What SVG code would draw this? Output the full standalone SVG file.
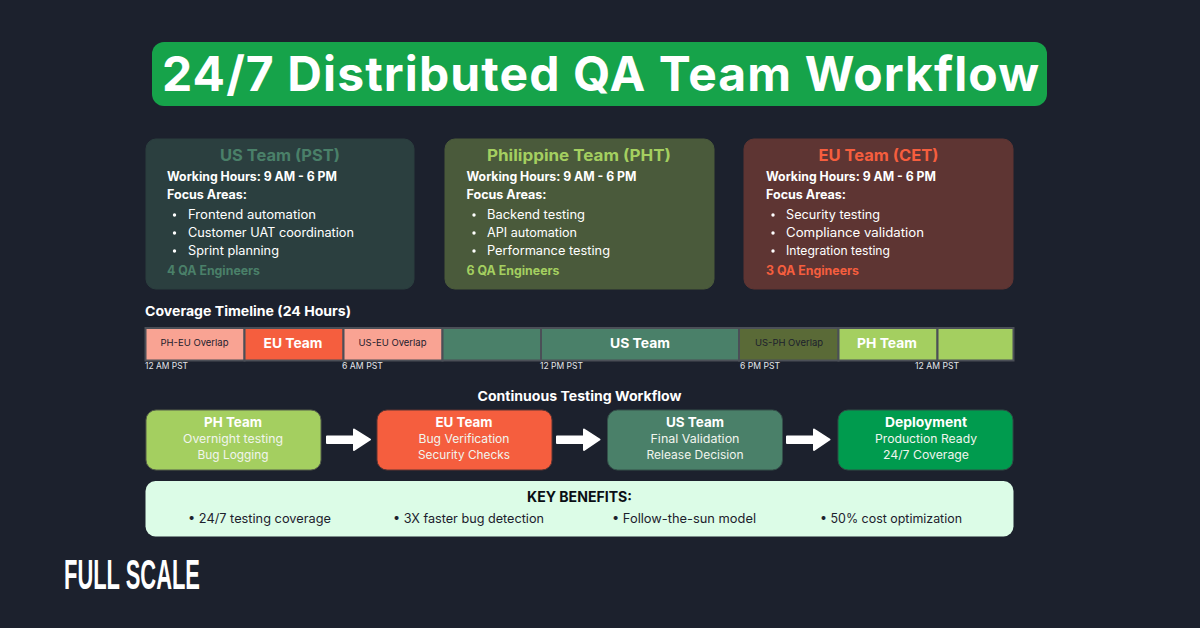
<svg xmlns="http://www.w3.org/2000/svg" width="1200" height="628" viewBox="0 0 1200 628">
<style>
text{font-family:"Inter","Noto Sans","Liberation Sans",sans-serif;fill:#fff}
.b{font-weight:700}.s{font-weight:600}
.m{text-anchor:middle}
.t13{font-size:12.500px}.t16{font-size:15.500px;font-weight:700}
.tl{font-size:9.500px;fill:#e5e7eb}
.ov{font-size:9.500px;fill:#1c212d}
.seg{stroke:#4b4f57;stroke-width:2}
.ben{font-size:12.500px;fill:#1c212d}
.st{font-size:13.500px;font-weight:700}
.sub{font-size:11.500px;fill:#f1f5ee}
</style>
<rect width="1200" height="628" fill="#1c212d"/>
<g id="title"><rect x="152" y="42" width="895" height="64" rx="12" fill="#16a34a"/>
<text class="b" x="162" y="91" font-size="48" textLength="877" lengthAdjust="spacing">24/7 Distributed QA Team Workflow</text></g>

<g id="card-us"><rect x="146" y="139" width="268" height="150" rx="10" fill="#2b3f3f" stroke="#2b3f3f"/>
<text class="t16 m" x="280" y="161" style="fill:#4a8069" textLength="120" lengthAdjust="spacingAndGlyphs">US Team (PST)</text>
<text class="b t13" x="167" y="181" textLength="170" lengthAdjust="spacingAndGlyphs">Working Hours: 9 AM - 6 PM</text>
<text class="b t13" x="167" y="199" textLength="80" lengthAdjust="spacingAndGlyphs">Focus Areas:</text>
<circle cx="174.500" cy="215" r="1.700" fill="#fff"/><text class="t13" x="188" y="219" textLength="128" lengthAdjust="spacingAndGlyphs">Frontend automation</text>
<circle cx="174.500" cy="233" r="1.700" fill="#fff"/><text class="t13" x="188" y="237" textLength="166" lengthAdjust="spacingAndGlyphs">Customer UAT coordination</text>
<circle cx="174.500" cy="251" r="1.700" fill="#fff"/><text class="t13" x="188" y="255" textLength="91" lengthAdjust="spacingAndGlyphs">Sprint planning</text>
<text class="b t13" x="167" y="275" style="fill:#4a8069" textLength="93" lengthAdjust="spacingAndGlyphs">4 QA Engineers</text></g>

<g id="card-ph"><rect x="445" y="139" width="269" height="150" rx="10" fill="#4a5a3b" stroke="#4a5a3b"/>
<text class="t16 m" x="579" y="161" style="fill:#a4cf60" textLength="184" lengthAdjust="spacingAndGlyphs">Philippine Team (PHT)</text>
<text class="b t13" x="466.500" y="181" textLength="170" lengthAdjust="spacingAndGlyphs">Working Hours: 9 AM - 6 PM</text>
<text class="b t13" x="466.500" y="199" textLength="80" lengthAdjust="spacingAndGlyphs">Focus Areas:</text>
<circle cx="474" cy="215" r="1.700" fill="#fff"/><text class="t13" x="487" y="219" textLength="98" lengthAdjust="spacingAndGlyphs">Backend testing</text>
<circle cx="474" cy="233" r="1.700" fill="#fff"/><text class="t13" x="487" y="237" textLength="90" lengthAdjust="spacingAndGlyphs">API automation</text>
<circle cx="474" cy="251" r="1.700" fill="#fff"/><text class="t13" x="487" y="255" textLength="123" lengthAdjust="spacingAndGlyphs">Performance testing</text>
<text class="b t13" x="466.500" y="275" style="fill:#a4cf60" textLength="93" lengthAdjust="spacingAndGlyphs">6 QA Engineers</text></g>

<g id="card-eu"><rect x="744" y="139" width="269" height="150" rx="10" fill="#5e3533" stroke="#5e3533"/>
<text class="t16 m" x="878.500" y="161" style="fill:#f55e3e" textLength="120" lengthAdjust="spacingAndGlyphs">EU Team (CET)</text>
<text class="b t13" x="766" y="181" textLength="170" lengthAdjust="spacingAndGlyphs">Working Hours: 9 AM - 6 PM</text>
<text class="b t13" x="766" y="199" textLength="80" lengthAdjust="spacingAndGlyphs">Focus Areas:</text>
<circle cx="773" cy="215" r="1.700" fill="#fff"/><text class="t13" x="786" y="219" textLength="94" lengthAdjust="spacingAndGlyphs">Security testing</text>
<circle cx="773" cy="233" r="1.700" fill="#fff"/><text class="t13" x="786" y="237" textLength="138" lengthAdjust="spacingAndGlyphs">Compliance validation</text>
<circle cx="773" cy="251" r="1.700" fill="#fff"/><text class="t13" x="786" y="255" textLength="104" lengthAdjust="spacingAndGlyphs">Integration testing</text>
<text class="b t13" x="766" y="275" style="fill:#f55e3e" textLength="93" lengthAdjust="spacingAndGlyphs">3 QA Engineers</text></g>

<g id="timeline">
<text class="b" x="145" y="316" font-size="13.500" textLength="206" lengthAdjust="spacingAndGlyphs">Coverage Timeline (24 Hours)</text>
<rect class="seg" x="145.500" y="328" width="99" height="32.500" fill="#f9a393"/>
<rect class="seg" x="244.500" y="328" width="99" height="32.500" fill="#f55e3e"/>
<rect class="seg" x="343.500" y="328" width="99" height="32.500" fill="#f9a393"/>
<rect class="seg" x="442.500" y="328" width="99" height="32.500" fill="#4a8069"/>
<rect class="seg" x="541" y="328" width="198" height="32.500" fill="#4a8069"/>
<rect class="seg" x="739" y="328" width="99.500" height="32.500" fill="#5a6a37"/>
<rect class="seg" x="838.500" y="328" width="99" height="32.500" fill="#a4cf60"/>
<rect class="seg" x="937.500" y="328" width="76" height="32.500" fill="#a4cf60"/>
<text class="ov m" x="194.500" y="346" textLength="68" lengthAdjust="spacingAndGlyphs">PH-EU Overlap</text>
<text class="b m" x="293" y="348" font-size="13.500" textLength="59" lengthAdjust="spacingAndGlyphs">EU Team</text>
<text class="ov m" x="392.500" y="346" textLength="68" lengthAdjust="spacingAndGlyphs">US-EU Overlap</text>
<text class="b m" x="640" y="348" font-size="13.500" textLength="60" lengthAdjust="spacingAndGlyphs">US Team</text>
<text class="ov m" x="789" y="346" textLength="68" lengthAdjust="spacingAndGlyphs">US-PH Overlap</text>
<text class="b m" x="887" y="348" font-size="13.500" textLength="60" lengthAdjust="spacingAndGlyphs">PH Team</text>
<text class="tl" x="145" y="369" textLength="43" lengthAdjust="spacingAndGlyphs">12 AM PST</text>
<text class="tl" x="342" y="369" textLength="41" lengthAdjust="spacingAndGlyphs">6 AM PST</text>
<text class="tl" x="540" y="369" textLength="43" lengthAdjust="spacingAndGlyphs">12 PM PST</text>
<text class="tl" x="740" y="369" textLength="40" lengthAdjust="spacingAndGlyphs">6 PM PST</text>
<text class="tl" x="915" y="369" textLength="44" lengthAdjust="spacingAndGlyphs">12 AM PST</text>
</g>

<text class="b m" x="579.500" y="401" font-size="13" textLength="204" lengthAdjust="spacingAndGlyphs">Continuous Testing Workflow</text>

<g id="step-ph"><rect x="146" y="410" width="175" height="60" rx="10" fill="#a4cf60" stroke="#555f4a"/>
<text class="st m" x="233" y="427" textLength="58" lengthAdjust="spacingAndGlyphs">PH Team</text>
<text class="sub m" x="233" y="443" textLength="100" lengthAdjust="spacingAndGlyphs">Overnight testing</text>
<text class="sub m" x="233" y="459" textLength="71" lengthAdjust="spacingAndGlyphs">Bug Logging</text></g>
<g id="step-eu"><rect x="377" y="410" width="175" height="60" rx="10" fill="#f55e3e" stroke="#5e3533"/>
<text class="st m" x="464" y="427" textLength="57" lengthAdjust="spacingAndGlyphs">EU Team</text>
<text class="sub m" x="464" y="443" textLength="91" lengthAdjust="spacingAndGlyphs">Bug Verification</text>
<text class="sub m" x="464" y="459" textLength="92" lengthAdjust="spacingAndGlyphs">Security Checks</text></g>
<g id="step-us"><rect x="607.500" y="410" width="175" height="60" rx="10" fill="#4a8069" stroke="#34504a"/>
<text class="st m" x="695" y="427" textLength="58" lengthAdjust="spacingAndGlyphs">US Team</text>
<text class="sub m" x="695" y="443" textLength="89" lengthAdjust="spacingAndGlyphs">Final Validation</text>
<text class="sub m" x="695" y="459" textLength="97" lengthAdjust="spacingAndGlyphs">Release Decision</text></g>
<g id="step-deploy"><rect x="838" y="410" width="175" height="60" rx="10" fill="#009b4e" stroke="#2f4f46"/>
<text class="st m" x="926" y="427" textLength="82" lengthAdjust="spacingAndGlyphs">Deployment</text>
<text class="sub m" x="926" y="443" textLength="102" lengthAdjust="spacingAndGlyphs">Production Ready</text>
<text class="sub m" x="926" y="459" textLength="86" lengthAdjust="spacingAndGlyphs">24/7 Coverage</text></g>

<g id="connectors" fill="#fff" stroke="#fff" stroke-width="2" stroke-linejoin="round">
<path d="M327 436.500H354V429.500L370 439.500L354 450V443H327Z"/>
<path d="M557 436.500H584V429.500L599.500 439.500L584 450V443H557Z"/>
<path d="M787 436.500H814V429.500L829.500 439.500L814 450V443H787Z"/>
</g>

<g id="benefits"><rect x="145.500" y="481" width="868" height="55.500" rx="10" fill="#dcfce7"/>
<text class="b m" x="579.500" y="502" font-size="14" style="fill:#0b0f14" textLength="105" lengthAdjust="spacingAndGlyphs">KEY BENEFITS:</text>
<text class="ben" x="188" y="523" textLength="143" lengthAdjust="spacingAndGlyphs">• 24/7 testing coverage</text>
<text class="ben" x="393" y="523" textLength="151" lengthAdjust="spacingAndGlyphs">• 3X faster bug detection</text>
<text class="ben" x="612" y="523" textLength="144" lengthAdjust="spacingAndGlyphs">• Follow-the-sun model</text>
<text class="ben" x="820" y="523" textLength="142" lengthAdjust="spacingAndGlyphs">• 50% cost optimization</text></g>

<g id="logo"><text x="64" y="589" font-size="42" font-weight="700" style="font-family:'Liberation Sans',sans-serif;fill:#fff" textLength="136" lengthAdjust="spacingAndGlyphs">FULL SCALE</text></g>
</svg>
